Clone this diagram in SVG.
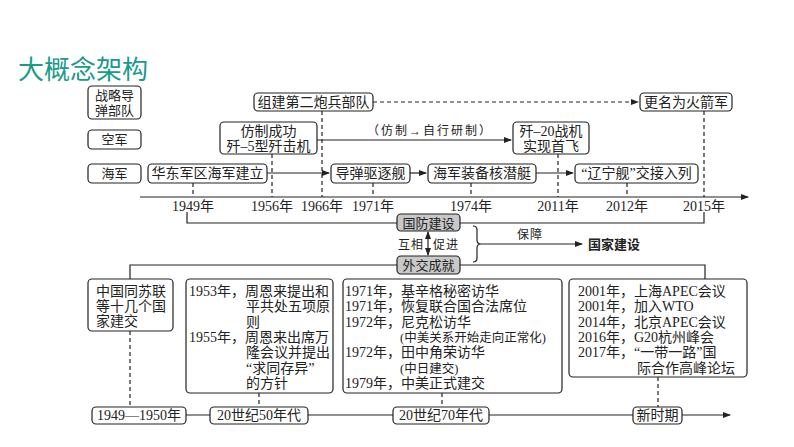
<svg xmlns="http://www.w3.org/2000/svg" width="794" height="447" viewBox="0 0 794 447">
<defs>
<marker id="ar" markerWidth="8" markerHeight="6" refX="7" refY="3" orient="auto" markerUnits="userSpaceOnUse"><path d="M0,0L8,3L0,6z" fill="#222"/></marker>
<marker id="as" markerWidth="8" markerHeight="6" refX="1" refY="3" orient="auto" markerUnits="userSpaceOnUse"><path d="M8,0L0,3L8,6z" fill="#222"/></marker>
</defs>
<style>
text{font-family:"Liberation Serif","Noto Sans CJK SC",serif;font-size:14px;fill:#222}
.b{fill:#fff;stroke:#222;stroke-width:1.2}
.g{fill:#c8c8c8;stroke:#222;stroke-width:1.2}
.l{stroke:#222;stroke-width:1.2;fill:none}
.d{stroke:#222;stroke-width:1.2;fill:none;stroke-dasharray:4 3}
.c{text-anchor:middle}
.s{font-family:"Noto Sans CJK SC","Liberation Sans",sans-serif}
</style>
<rect width="794" height="447" fill="#fff"/>
<text x="18" y="79" style="font-size:26px;fill:#1a9b8a" class="s">大概念架构</text>
<g id="connectors">
<path class="d" d="M373,102H638" marker-end="url(#ar)"/>
<path class="d" d="M704,111V197M322,111V197M558,154V197M272,154V197M193,183V197M373,183V197M471,183V197M627,183V197"/>
<path class="l" d="M317,140H511" marker-end="url(#ar)"/>
<path class="l" d="M267,173H329" marker-end="url(#ar)"/>
<path class="l" d="M410,173H426" marker-end="url(#ar)"/>
<path class="l" d="M536,173H573" marker-end="url(#ar)"/>
<path class="l" d="M140,197H748" marker-end="url(#ar)"/>
<path class="l" d="M187,212V223H397M460,223H704V212"/>
<path class="l" d="M428,232V255" marker-end="url(#ar)" marker-start="url(#as)"/>
<path class="l" d="M473,226q4,0 4,4v10q0,4 4,4q-4,0 -4,4v10q0,4 -4,4"/>
<path class="l" d="M481,244H582" marker-end="url(#ar)"/>
<path class="l" d="M397,265H130V279M460,265H705V279"/>
<path class="d" d="M130,331V407M259,393V407M442,393V407M658,377V407"/>
<path class="l" d="M186,415H210M308,415H393M489,415H633M682,415H730" marker-end="url(#ar)"/>
</g>
<g id="labels">
<rect class="b" x="88" y="86" width="53" height="33" rx="4"/><text x="114.5" y="100" class="c" style="font-size:13px">战略导</text><text x="114.5" y="115" class="c" style="font-size:13px">弹部队</text>
<rect class="b" x="88" y="130" width="53" height="19" rx="4"/><text x="114.5" y="144" class="c" style="font-size:13px">空军</text>
<rect class="b" x="88" y="164" width="53" height="19" rx="4"/><text x="114.5" y="178" class="c" style="font-size:13px">海军</text>
</g>
<g id="n1"><rect class="b" x="254" y="93" width="119" height="18" rx="4"/><text x="313.5" y="107" class="c">组建第二炮兵部队</text></g>
<g id="n2"><rect class="b" x="640" y="93" width="92" height="18" rx="4"/><text x="686" y="107" class="c">更名为火箭军</text></g>
<g id="n3"><rect class="b" x="220" y="122" width="97" height="32" rx="4"/><text x="268.5" y="136" class="c">仿制成功</text><text x="268.5" y="151" class="c">歼–5型歼击机</text></g>
<g id="lab1"><text x="430" y="135" class="c" style="font-size:12px;letter-spacing:2px">（仿制→自行研制）</text></g>
<g id="n4"><rect class="b" x="513" y="122" width="76" height="32" rx="4"/><text x="551" y="136" class="c">歼–20战机</text><text x="551" y="151" class="c">实现首飞</text></g>
<g id="n5"><rect class="b" x="148" y="164" width="119" height="19" rx="4"/><text x="207.5" y="178" class="c">华东军区海军建立</text></g>
<g id="n6"><rect class="b" x="331" y="164" width="79" height="19" rx="4"/><text x="370.5" y="178" class="c">导弹驱逐舰</text></g>
<g id="n7"><rect class="b" x="428" y="164" width="108" height="19" rx="4"/><text x="482" y="178" class="c">海军装备核潜艇</text></g>
<g id="n8"><rect class="b" x="575" y="164" width="123" height="19" rx="4"/><text x="636.5" y="178" class="c">“辽宁舰”交接入列</text></g>
<g id="years">
<text x="193" y="211" class="c">1949年</text><text x="272" y="211" class="c">1956年</text><text x="322" y="211" class="c">1966年</text><text x="373" y="211" class="c">1971年</text><text x="471" y="211" class="c">1974年</text><text x="558" y="211" class="c">2011年</text><text x="627" y="211" class="c">2012年</text><text x="704" y="211" class="c">2015年</text>
</g>
<g id="gf"><rect class="g" x="397" y="214" width="63" height="17" rx="4"/><text x="428.5" y="228" class="c s" style="font-size:13px">国防建设</text></g>
<g id="wj"><rect class="g" x="397" y="256" width="63" height="18" rx="4"/><text x="428.5" y="270" class="c s" style="font-size:13px">外交成就</text></g>
<g id="lab2"><text x="424" y="249" style="font-size:12px;text-anchor:end;letter-spacing:1px">互相</text><text x="433" y="249" style="font-size:12px;letter-spacing:1px">促进</text><text x="530" y="239" class="c" style="font-size:12px;letter-spacing:1px">保障</text></g>
<g id="gj"><text x="588" y="249" class="s" style="font-weight:bold;font-size:13px">国家建设</text></g>
<g id="d1"><rect class="b" x="88" y="279" width="85" height="52" rx="4"/><text x="96" y="296">中国同苏联</text><text x="96" y="311">等十几个国</text><text x="96" y="326">家建交</text></g>
<g id="d2"><rect class="b" x="186" y="279" width="147" height="114" rx="4"/>
<text x="189" y="296">1953年，周恩来提出和</text><text x="246" y="311">平共处五项原</text><text x="246" y="327">则</text><text x="189" y="342">1955年，周恩来出席万</text><text x="246" y="357">隆会议并提出</text><text x="246" y="373">“求同存异”</text><text x="246" y="388">的方针</text></g>
<g id="d3"><rect class="b" x="343" y="279" width="219" height="114" rx="4"/>
<text x="345" y="296">1971年，基辛格秘密访华</text><text x="345" y="311">1971年，恢复联合国合法席位</text><text x="345" y="327">1972年，尼克松访华</text><text x="400" y="342" style="font-size:12.5px">(中美关系开始走向正常化)</text><text x="345" y="357">1972年，田中角荣访华</text><text x="400" y="373" style="font-size:12.5px">(中日建交)</text><text x="345" y="388">1979年，中美正式建交</text></g>
<g id="d4"><rect class="b" x="569" y="279" width="178" height="98" rx="4"/>
<text x="578" y="296">2001年，上海APEC会议</text><text x="578" y="311">2001年，加入WTO</text><text x="578" y="327">2014年，北京APEC会议</text><text x="578" y="342">2016年，G20杭州峰会</text><text x="578" y="357">2017年，“一带一路”国</text><text x="637" y="373">际合作高峰论坛</text></g>
<g id="p1"><rect class="b" x="92" y="407" width="94" height="17" rx="4"/><text x="139" y="420" class="c">1949—1950年</text></g>
<g id="p2"><rect class="b" x="210" y="407" width="98" height="17" rx="4"/><text x="259" y="420" class="c">20世纪50年代</text></g>
<g id="p3"><rect class="b" x="393" y="407" width="96" height="17" rx="4"/><text x="441" y="420" class="c">20世纪70年代</text></g>
<g id="p4"><rect class="b" x="633" y="407" width="49" height="17" rx="4"/><text x="657.5" y="420" class="c">新时期</text></g>
</svg>
